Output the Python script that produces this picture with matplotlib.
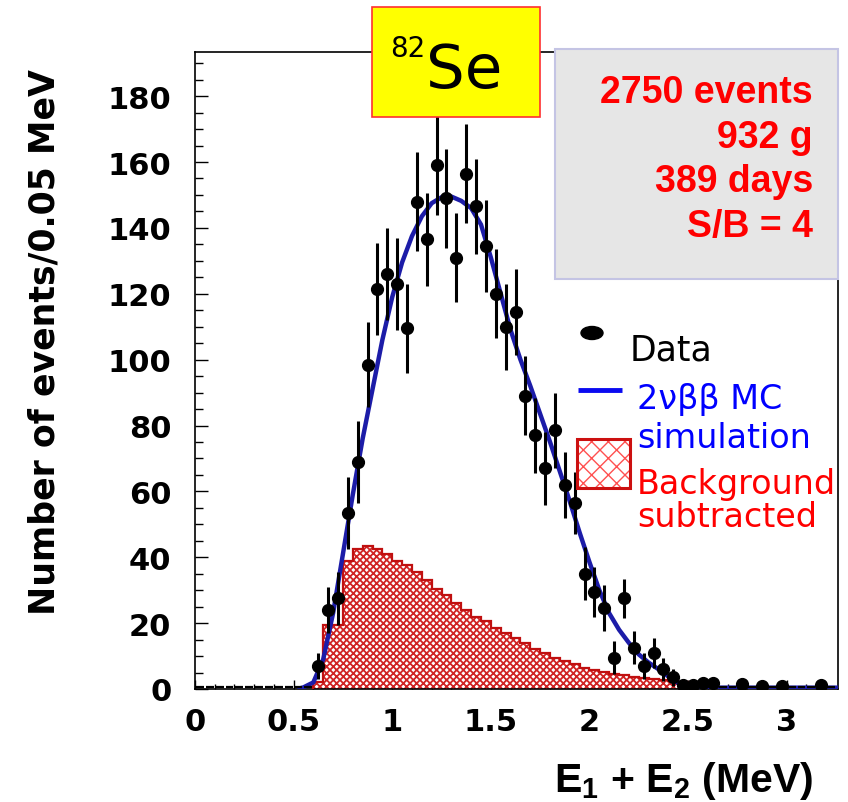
import numpy as np
import matplotlib
matplotlib.use('Agg')
import matplotlib.pyplot as plt
from matplotlib.patches import Rectangle, Ellipse
from matplotlib.lines import Line2D

plt.rcParams['font.family'] = ['DejaVu Sans']
plt.rcParams['mathtext.fontset'] = 'custom'
plt.rcParams['mathtext.rm'] = 'Liberation Sans:bold'
plt.rcParams['mathtext.bf'] = 'Liberation Sans:bold'
plt.rcParams['mathtext.default'] = 'bf'

W, H = 848, 803

# ---- data ----
# measured spectrum, 0.05 MeV bins starting at 0.60 MeV
data_n = [7, 24, 27.5, 53.5, 69, 98.5, 121.5, 126, 123, 109.5,
          148, 136.5, 159, 149, 131, 156.5, 146.5, 134.5, 120, 110,
          114.5, 89, 77, 67, 78.5, 62, 56.5, 35, 29.5, 24.5,
          9.5, 27.5, 12.5, 7, 11, 6, 3.5, 1.2, 1.2, 1.8,
          1.8, 0, 0, 1.5, 0, 1, 0, 1, 0, 0,
          0, 1.2, 0]
data_err = [4, 7, 8, 11, 12.5, 13, 14, 14, 14, 13.5,
            15, 14, 15, 15, 13.5, 15, 14.5, 14, 13.5, 13,
            13, 12, 11.5, 11, 11.5, 10, 9.5, 8, 7.5, 7,
            5, 6, 5, 4, 4.5, 3.5, 2.5, 1.5, 1.5, 1.5,
            1.5, 0, 0, 1.5, 0, 1, 0, 1, 0, 0,
            0, 1.2, 0]
data_start = 0.60
n_empty_low = 12          # empty bins from 0 to 0.60 MeV
bin_w = 0.05

# 2nu-beta-beta MC curve
mc_e = [0.52, 0.55, 0.60, 0.65, 0.70, 0.75, 0.80, 0.85, 0.90, 0.95,
        1.00, 1.05, 1.10, 1.15, 1.20, 1.25, 1.30, 1.35, 1.40, 1.45,
        1.50, 1.55, 1.60, 1.65, 1.70, 1.75, 1.80, 1.85, 1.90, 1.95,
        2.00, 2.05, 2.10, 2.15, 2.20, 2.25, 2.30, 2.35, 2.40, 2.45,
        2.50, 2.55, 3.26]
mc_n = [0, 0.5, 2, 9, 23, 41, 59, 76, 91, 106,
        119, 129.5, 137.5, 143.5, 147.5, 149.3, 149.5, 148.2, 146, 141,
        131, 120, 109, 100, 92, 83.5, 75, 66, 57, 47.5,
        38.5, 30, 23, 18, 14, 10.5, 8, 6, 3.8, 1.8,
        0.7, 0.4, 0.4]

# subtracted background histogram, 0.05 MeV bins from 0.60 MeV
bkg_start = 0.60
bkg_n = [2, 19.5, 19.5, 39, 42.5, 43.5, 42.5, 41, 39, 37.5,
         35.5, 33, 30.5, 28.5, 26, 24, 22, 20.5, 18.5, 17,
         15.5, 14, 12, 11, 9.5, 8.5, 7.5, 6.5, 5.8, 5.2,
         4.7, 4.2, 3.7, 3.3, 3.0, 2.8, 2.5, 2.0]

info_lines = ['2750 events', '932 g', '389 days', 'S/B = 4']
x_ticks = [0, 0.5, 1, 1.5, 2, 2.5, 3]
x_ticklabels = ['0', '0.5', '1', '1.5', '2', '2.5', '3']
y_ticks = list(range(0, 181, 20))


def fx(px):
    return px / W


def fy(py):
    return 1 - py / H


fig = plt.figure(figsize=(W / 100, H / 100), dpi=100, facecolor='white')
ax = fig.add_axes([fx(195), fy(690), (838 - 195) / W, (690 - 53) / H])

# background histogram (hatched)
bkg_edges = bkg_start + bin_w * np.arange(len(bkg_n) + 1)
with plt.rc_context({'hatch.linewidth': 1.3}):
    ax.stairs(bkg_n, bkg_edges, fill=True, facecolor='white',
              edgecolor='#d02424', hatch='xxxxx', linewidth=0, zorder=2)
ax.stairs(bkg_n, bkg_edges, color='#c01010', linewidth=1.6, zorder=3)

# MC curve
ax.plot(mc_e, mc_n, color='#1c1ca8', lw=3.2, zorder=4, solid_capstyle='butt')

# data points
data_e = data_start + bin_w * (np.arange(len(data_n)) + 0.5)
data_n = np.array(data_n, dtype=float)
data_err = np.array(data_err, dtype=float)
filled = data_n > 0
ax.errorbar(data_e[filled], data_n[filled], yerr=data_err[filled],
            xerr=bin_w / 2, fmt='o', color='black', ms=8.5,
            elinewidth=2.2, capsize=0, zorder=5)
ax.errorbar(data_e[~filled], data_n[~filled] + 0.5, xerr=bin_w / 2 * 0.8,
            fmt='none', ecolor='black', elinewidth=1.6, zorder=5)
low_e = bin_w * (np.arange(n_empty_low) + 0.5)
ax.errorbar(low_e, np.zeros(n_empty_low) + 0.6, xerr=bin_w / 2 * 0.8,
            fmt='none', ecolor='black', elinewidth=1.6, zorder=5)

# axes
ax.set_xlim(0, 3.26)
ax.set_ylim(0, 193.4)
ax.set_xticks(x_ticks)
ax.set_xticklabels(x_ticklabels)
ax.set_xticks(np.arange(0, 3.26, 0.1), minor=True)
ax.set_yticks(y_ticks)
ax.set_yticks(np.arange(0, 193, 5), minor=True)
ax.tick_params(axis='x', which='major', direction='in', length=6.5, width=1, pad=13)
ax.tick_params(axis='x', which='minor', direction='in', length=3.5, width=1)
ax.tick_params(axis='y', which='major', direction='in', length=9, width=1, pad=17)
ax.tick_params(axis='y', which='minor', direction='in', length=5.5, width=1)
for lab in ax.get_xticklabels() + ax.get_yticklabels():
    lab.set_fontsize(22)
    lab.set_fontweight('bold')
for sp in ax.spines.values():
    sp.set_linewidth(1.2)

fig.text(fx(45), fy(342), 'Number of events/0.05 MeV', rotation=90,
         ha='center', va='center', fontsize=25, fontweight='bold')
fig.text(fx(813), fy(792), 'E$_1$ + E$_2$ (MeV)', ha='right', va='baseline',
         fontsize=29.5, fontweight='bold', family='Liberation Sans')

# yellow isotope box
fig.add_artist(Rectangle((fx(372), fy(118)), (540 - 372) / W, (118 - 8) / H,
                         transform=fig.transFigure, facecolor='#ffff00',
                         edgecolor='#ff3030', linewidth=1.2, zorder=6))
fig.text(fx(390), fy(57), '82', ha='left', va='baseline', fontsize=20, zorder=7)
fig.text(fx(426), fy(88), 'Se', ha='left', va='baseline', fontsize=44, zorder=7)

# grey info box
fig.add_artist(Rectangle((fx(555), fy(280)), (838 - 555) / W, (280 - 50) / H,
                         transform=fig.transFigure, facecolor='#e6e6e6',
                         edgecolor='#c4c4e4', linewidth=1.5, zorder=6))
for i, line in enumerate(info_lines):
    fig.text(fx(813), fy(103 + 44.7 * i), line, ha='right', va='baseline',
             fontsize=27, fontweight='bold', color='#ff0000',
             family='Liberation Sans', zorder=7)

# legend
fig.add_artist(Ellipse((fx(592), fy(334)), 22 / W, 13 / H,
                       transform=fig.transFigure, color='black', zorder=7))
fig.text(fx(630), fy(361), 'Data', ha='left', va='baseline', fontsize=25, color='black')
fig.add_artist(Line2D([fx(578), fx(622)], [fy(391), fy(391)],
                      transform=fig.transFigure, color='#0a0af0', lw=3.5,
                      solid_capstyle='butt'))
fig.text(fx(637), fy(409), '2νββ MC', ha='left', va='baseline', fontsize=24, color='#0000ff')
fig.text(fx(637), fy(448), 'simulation', ha='left', va='baseline', fontsize=24, color='#0000ff')
with plt.rc_context({'hatch.linewidth': 1.0}):
    fig.add_artist(Rectangle((fx(577), fy(489)), 53 / W, 49 / H,
                             transform=fig.transFigure, facecolor='white',
                             edgecolor='#ff5050', hatch='xx', linewidth=0))
fig.add_artist(Rectangle((fx(577), fy(489)), 53 / W, 49 / H,
                         transform=fig.transFigure, fill=False,
                         edgecolor='#cc1010', linewidth=2.2))
fig.text(fx(637), fy(494), 'Background', ha='left', va='baseline', fontsize=24, color='#ff0000')
fig.text(fx(637), fy(527), 'subtracted', ha='left', va='baseline', fontsize=24, color='#ff0000')

fig.savefig('out.png', dpi=100, facecolor='white')
